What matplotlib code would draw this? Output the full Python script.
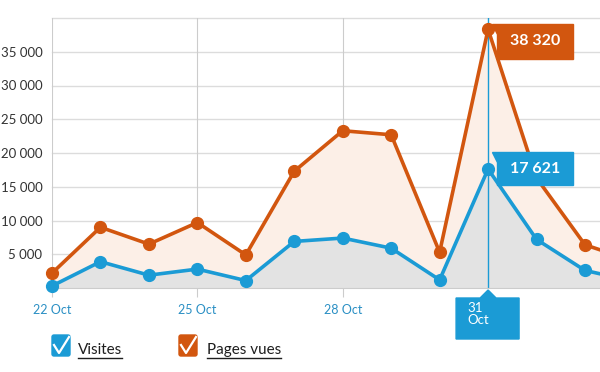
import numpy as np
import matplotlib.pyplot as plt
import matplotlib.transforms as mtransforms
from matplotlib.patches import Polygon, FancyBboxPatch
from matplotlib.lines import Line2D

plt.rcParams['font.family'] = ['Lato', 'DejaVu Sans']

# jours depuis le 22 Oct
jours = np.arange(13)
tick_pos = [0, 3, 6]
tick_labels = ['22 Oct', '25 Oct', '28 Oct']
visites = [300, 3900, 1900, 2800, 1100, 6900, 7400, 5900, 1200, 17621, 7200, 2600, 1000]
pages_vues = [2200, 9000, 6500, 9700, 4900, 17300, 23300, 22700, 5300, 38320, 16300, 6400, 4000]
jour_sel = 9
label_sel = '31\nOct'

bleu = '#1b9bd5'
orange = '#d2560f'

W, H = 600, 372
fig = plt.figure(figsize=(W / 100, H / 100), dpi=100)
ax = fig.add_axes([52 / W, 1 - 288 / H, 1 - 52 / W, 270 / H])
ax.set_xlim(0, 11.31)
ax.set_ylim(0, 40000)

# grille
for v in range(5000, 40001, 5000):
    ax.axhline(v, color='#dcdcdc', lw=1, zorder=0, clip_on=False)
for t in tick_pos:
    ax.axvline(t, color='#cccccc', lw=0.8, zorder=0)

# aires + courbes
ax.fill_between(jours, 0, pages_vues, color='#fcefe7', lw=0, zorder=1)
ax.fill_between(jours, 0, visites, color='#e3e3e3', lw=0, zorder=1)
ax.plot(jours, pages_vues, color=orange, lw=2.6, marker='o', ms=8.5, zorder=3, clip_on=False)
ax.plot(jours, visites, color=bleu, lw=2.6, marker='o', ms=8.5, zorder=4, clip_on=False)

for s in ['top', 'left', 'right']:
    ax.spines[s].set_visible(False)
ax.spines['bottom'].set_color('#cccccc')

ax.set_yticks(range(5000, 35001, 5000))
ax.set_yticklabels(['{:,}'.format(v).replace(',', ' ') for v in range(5000, 35001, 5000)])
ax.tick_params(axis='y', length=0, pad=7, labelsize=9.5, labelcolor='#333333')
ax.set_xticks(tick_pos)
ax.set_xticklabels(tick_labels)
ax.tick_params(axis='x', length=6.5, width=0.8, color='#cccccc', pad=5, labelsize=9, labelcolor='#2a8fc4')

# ligne du jour sélectionné
ax.plot([jour_sel, jour_sel], [0, 40000], color=bleu, lw=1, zorder=2)


def ancre(x, y):
    return fig.dpi_scale_trans + mtransforms.ScaledTranslation(x, y, ax.transData)


def bulle(x, y, txt, couleur, haut, bas):
    tr = ancre(x, y)
    pts = np.array([(4, haut), (85, haut), (85, bas), (9, bas), (9, haut - 10), (4, haut)]) / 100
    ax.add_patch(Polygon(pts, closed=True, transform=tr, color=couleur, zorder=6, clip_on=False))
    ax.text(0.47, (haut + bas) / 200, txt, transform=tr, color='white', fontsize=11.5,
            fontweight='bold', ha='center', va='center', zorder=7)


bulle(jour_sel, pages_vues[jour_sel], '38 320', orange, 5.7, -29.3)
bulle(jour_sel, visites[jour_sel], '17 621', bleu, 17, -16)

# étiquette de date
tr = ancre(jour_sel, 0)
pts = np.array([(0, -2), (8, -10), (31, -10), (31, -51), (-32, -51), (-32, -10), (-8, -10)]) / 100
ax.add_patch(Polygon(pts, closed=True, transform=tr, color=bleu, zorder=6, clip_on=False))
ax.text(-0.21, -0.14, label_sel, transform=tr, color='white', fontsize=9.5, ha='left', va='top',
        linespacing=1.05, zorder=7)

# légende
pix = fig.dpi_scale_trans


def P(x, y):
    return (x / 100, (H - y) / 100)


def case(x0, couleur, texte, tx):
    fig.patches.append(FancyBboxPatch(P(x0, 356), 0.18, 0.21, boxstyle='round,pad=0,rounding_size=0.02',
                                      transform=pix, color=couleur))
    xs, ys = zip(P(x0 + 2, 345), P(x0 + 7, 353), P(x0 + 17, 337))
    fig.lines.append(Line2D(xs, ys, transform=pix, color='white', lw=1.6))
    t = fig.text(*P(tx, 354), texte, transform=pix, fontsize=11, color='#1e1e1e', ha='left', va='baseline')
    fig.canvas.draw()
    bb = t.get_window_extent()
    xa, ya = P(tx, 358)
    fig.lines.append(Line2D([bb.x0 / 100, bb.x1 / 100], [ya, ya], transform=pix, color='#1e1e1e', lw=1))


case(52, bleu, 'Visites', 78)
case(179, orange, 'Pages vues', 207)

fig.savefig('out.png', dpi=100)
